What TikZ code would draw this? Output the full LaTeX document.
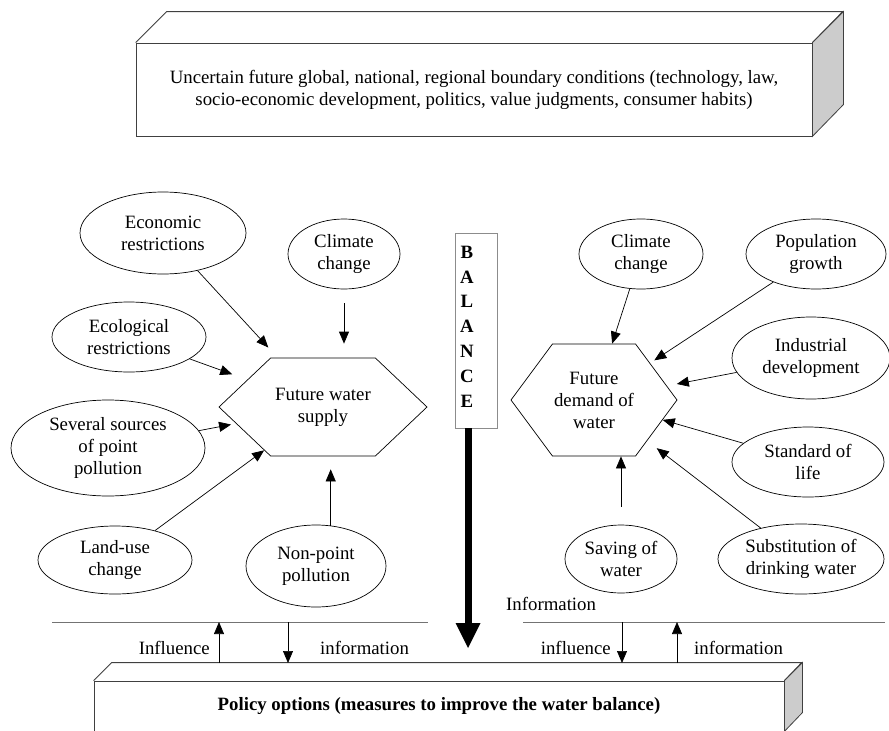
\documentclass[tikz,border=0pt]{standalone}
\usepackage{fontspec}
\setmainfont{Liberation Serif}
\usetikzlibrary{arrows.meta, calc, positioning, shapes.geometric, shapes.symbols}

\begin{document}
\begin{tikzpicture}[x=1pt, y=-1pt,
  every node/.style={font=\fontsize{18.8}{22}\selectfont, align=center, inner sep=0pt},
  factor/.style={ellipse, draw, line width=0.7pt},
  target/.style={signal, signal to=east and west, draw, line width=0.7pt},
  flow/.style={-{Triangle[length=12pt, width=10pt]}, line width=0.7pt},
  slab/.style={draw=black!75, line width=0.8pt},
  side/.style={draw=black!75, fill=black!20, line width=0.8pt},
  rule/.style={draw=black!55, line width=1pt}]

\useasboundingbox (0,0) rectangle (889,731);
\clip (0,0) rectangle (889,731);

% boundary conditions
\node[slab, minimum width=676pt, minimum height=93pt] (cond) at (474,89.5)
  {Uncertain future global, national, regional boundary conditions (technology, law,\\
   socio-economic development, politics, value judgments, consumer habits)};
\draw[slab] (cond.north west) -- ++(31,-31) -- ++(676,0) -- (cond.north east);
\draw[side] (cond.north east) -- ++(31,-31) -- ++(0,93) -- (cond.south east) -- cycle;

% supply side
\node[target, minimum width=208pt, minimum height=98pt, signal pointer angle=87] (sup) at (323,407) {Future water\\supply};
\node[factor, minimum width=166pt, minimum height=82pt] (eco) at (163,233) {Economic\\restrictions};
\node[factor, minimum width=112pt, minimum height=70pt] (climL) at (344,254) {Climate\\change};
\node[factor, minimum width=154pt, minimum height=70pt] (ecol) at (129,337) {Ecological\\restrictions};
\node[factor, minimum width=194pt, minimum height=96pt] (sev) at (108,448) {Several sources\\of point\\pollution};
\node[factor, minimum width=154pt, minimum height=68pt] (land) at (115,560) {Land-use\\change};
\node[factor, minimum width=140pt, minimum height=82pt] (nonp) at (316,566) {Non-point\\pollution};

\draw[flow, shorten >=14pt] (eco) -- (sup);
\draw[flow, shorten <=14pt, shorten >=14pt] (climL) -- (climL |- sup.north);
\draw[flow, shorten >=16pt] (ecol) -- (sup);
\draw[flow, shorten >=5pt] (sev) -- (sup);
\draw[flow] (land) -- (sup);
\draw[flow, shorten >=13pt] (nonp.70) -- (nonp.70 |- sup.south);

% demand side
\node[target, minimum width=166pt, minimum height=112pt, signal pointer angle=107] (dem) at (594,400) {Future\\demand of\\water};
\node[factor, minimum width=124pt, minimum height=70pt] (climR) at (641,254) {Climate\\change};
\node[factor, minimum width=140pt, minimum height=70pt] (pop) at (816,254) {Population\\growth};
\node[factor, minimum width=158pt, minimum height=82pt] (ind) at (811,358) {Industrial\\development};
\node[factor, minimum width=152pt, minimum height=70pt] (std) at (808,462) {Standard of\\life};
\node[factor, minimum width=112pt, minimum height=68pt] (sav) at (621,559) {Saving of\\water};
\node[factor, minimum width=166pt, minimum height=70pt] (subs) at (801,559) {Substitution of\\drinking water};

\draw[flow] (climR) -- (dem);
\draw[flow, shorten >=5pt] (pop) -- (dem);
\draw[flow, shorten >=10pt] (ind) -- (dem);
\draw[flow] (std) -- (dem);
\draw[flow, shorten <=18pt] (sav) -- (sav |- dem.south);
\draw[flow, shorten >=12pt] (subs) -- (dem);

% balance
\node[draw=black!45, line width=0.6pt, minimum width=42pt, minimum height=195pt] (bal) at (476,330.5) {};
\node[font=\fontsize{18.8}{24.8}\selectfont\bfseries] (balText) at (467,326.5) {B\\A\\L\\A\\N\\C\\E};
\coordinate (balEnd) at (468,648);
\draw[line width=7pt, -{Triangle[length=25pt, width=25pt, line width=0pt]}] (bal.south -| balEnd) -- (balEnd);

% policy options
\node[slab, minimum width=690pt, minimum height=50pt, font=\fontsize{18.8}{22}\selectfont\bfseries] (pol) at (439,706)
  {Policy options (measures to improve the water balance)};
\draw[slab] (pol.north west) -- ++(18,-18) -- ++(690,0) -- (pol.north east);
\draw[side] (pol.north east) -- ++(18,-18) -- ++(0,50) -- (pol.south east) -- cycle;

\coordinate (rulL) at (52,622);
\coordinate (rulLEnd) at (428,622);
\coordinate (rulR) at (523,622);
\coordinate (rulREnd) at (885,622);
\draw[rule] (rulL) -- (rulLEnd);
\draw[rule] (rulR) -- (rulREnd);

\coordinate (inflL) at (219,663);
\coordinate (infoL) at (288,663);
\coordinate (inflR) at (622,663);
\coordinate (infoR) at (677,663);
\draw[flow] (inflL) -- (inflL |- rulL);
\draw[flow] (infoL |- rulL) -- (infoL);
\draw[flow] (inflR |- rulR) -- (inflR);
\draw[flow] (infoR) -- (infoR |- rulR);

\node[anchor=east] (lblInflL) at (210,648) {Influence};
\node[anchor=west] (lblInfoL) at (320,648) {information};
\node[anchor=east] (lblInflR) at (611,648) {influence};
\node[anchor=west] (lblInfoR) at (694,648) {information};
\node[anchor=west] (lblInfoTop) at (506,604) {Information};

\end{tikzpicture}
\end{document}
